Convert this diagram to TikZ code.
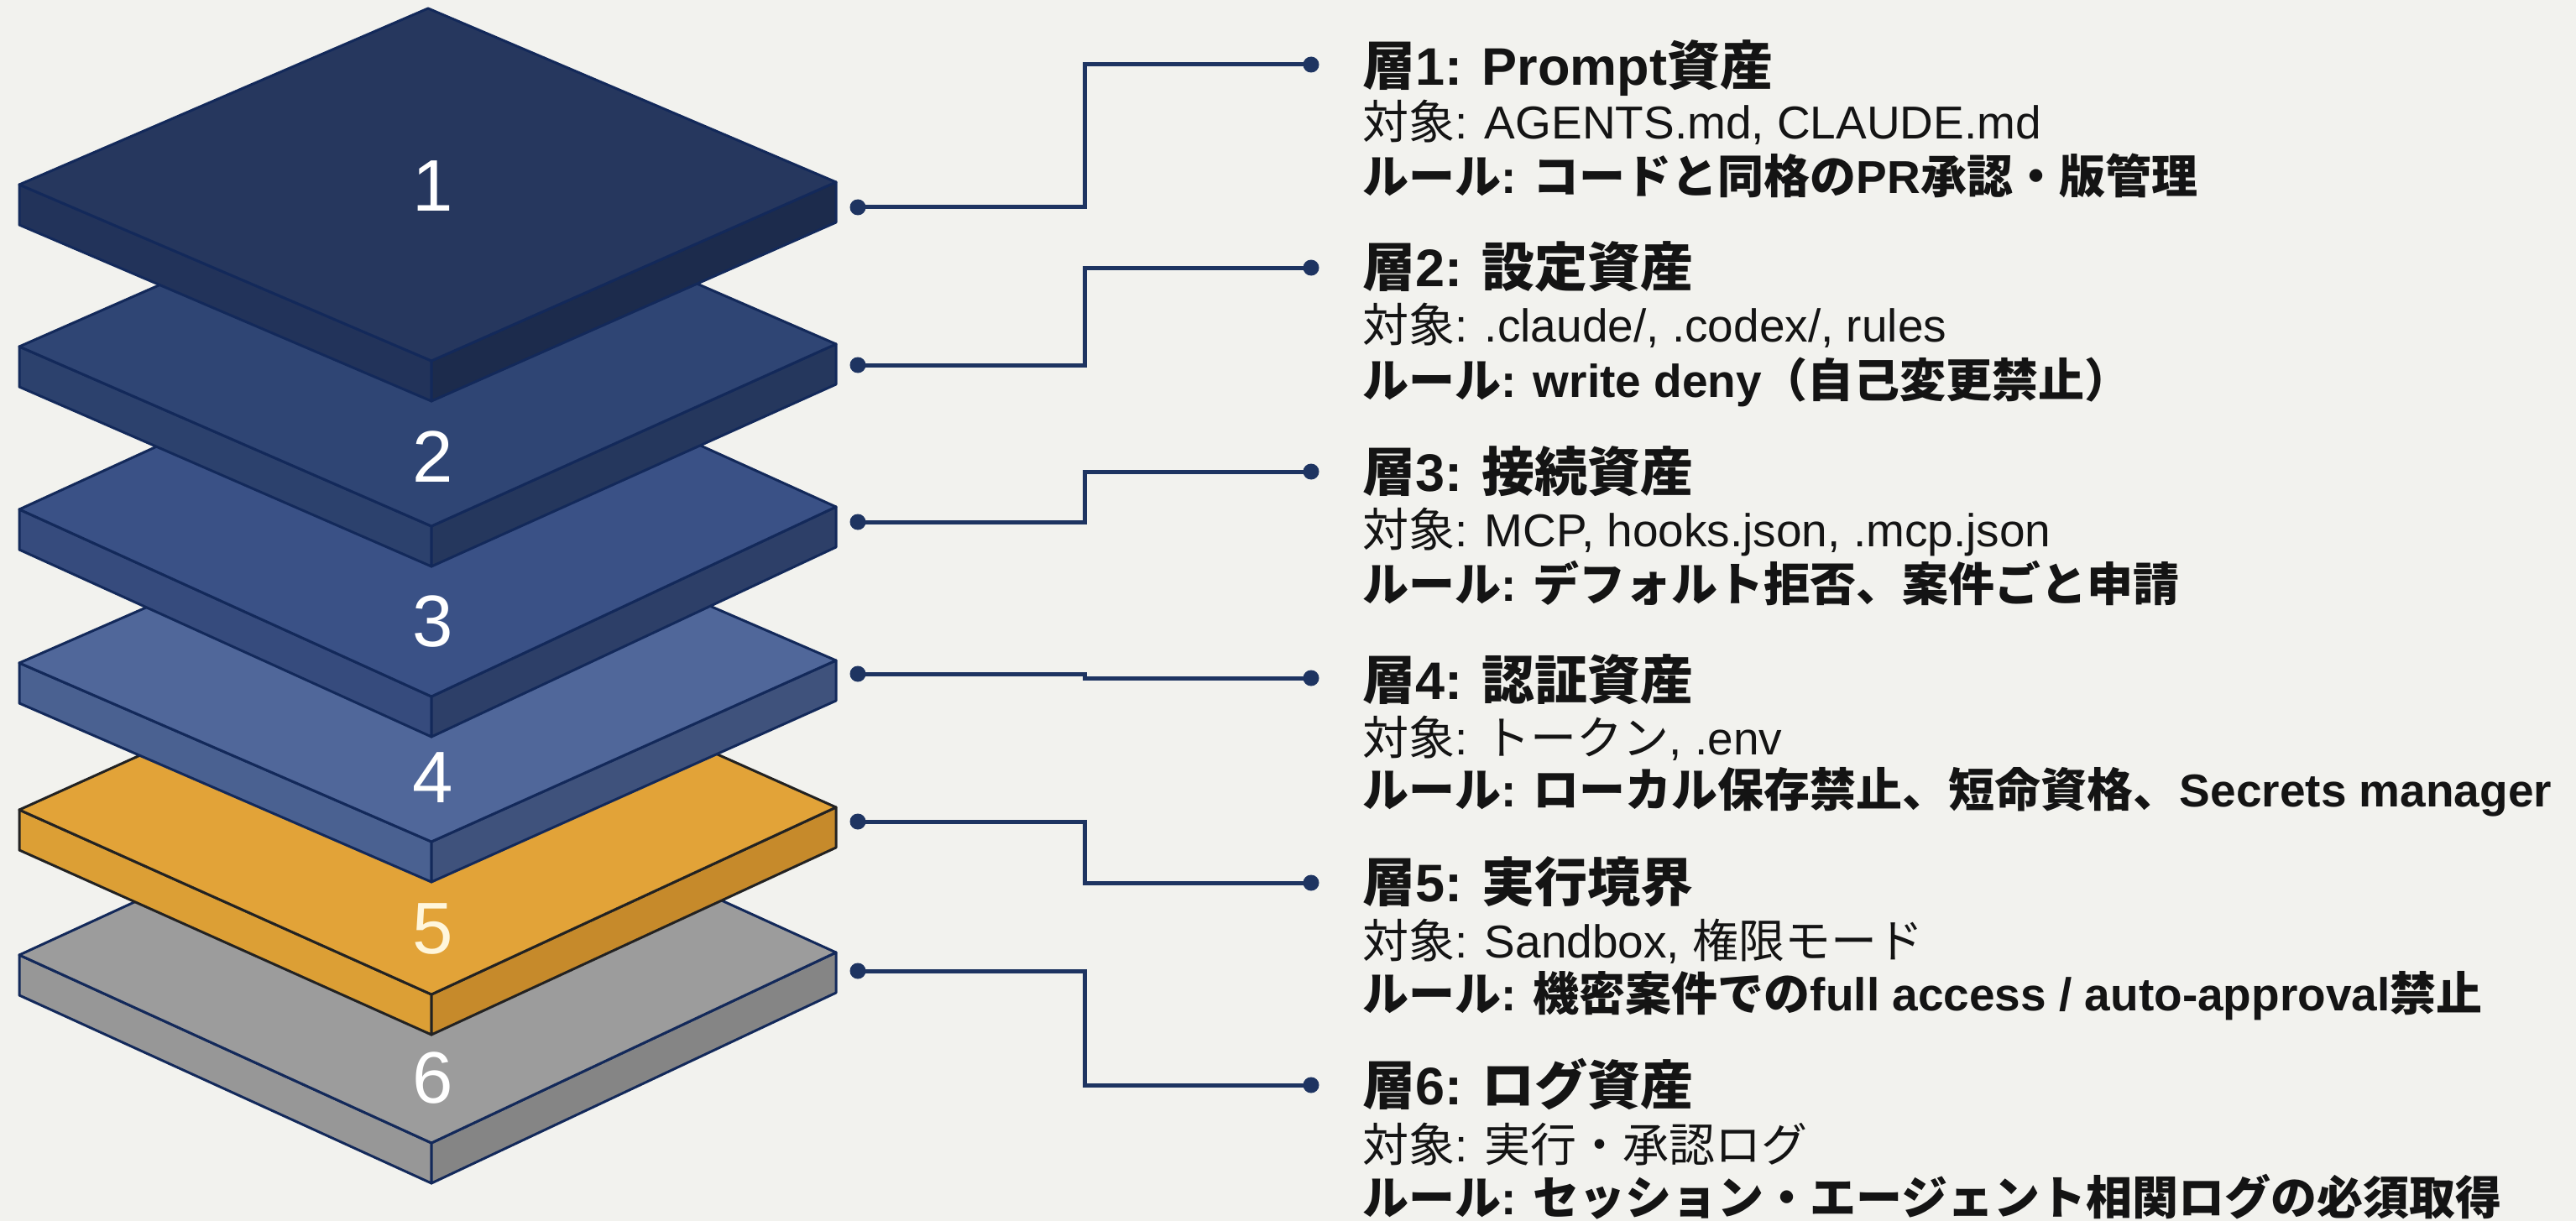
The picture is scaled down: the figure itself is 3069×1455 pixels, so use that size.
\documentclass[tikz,border=0pt]{standalone}
\usepackage{fontspec}
\setmainfont{Liberation Sans}
\newfontfamily\jp{Noto Sans CJK JP}
\usetikzlibrary{calc}
\newcommand\J[1]{{\jp #1}}
\definecolor{bg}{HTML}{F2F2EE}
\definecolor{ink}{HTML}{141414}
\definecolor{conn}{HTML}{1E3461}
\definecolor{navyline}{HTML}{13295A}
\definecolor{darkline}{HTML}{222222}
\definecolor{cream}{HTML}{FFF6DC}
\definecolor{aTop}{HTML}{26375E}\definecolor{aL}{HTML}{22335A}\definecolor{aR}{HTML}{1C2B4C}
\definecolor{bTop}{HTML}{2F4574}\definecolor{bL}{HTML}{2C416D}\definecolor{bR}{HTML}{25375D}
\definecolor{cTop}{HTML}{3A5186}\definecolor{cL}{HTML}{364B7D}\definecolor{cR}{HTML}{2D3F68}
\definecolor{dTop}{HTML}{50679A}\definecolor{dL}{HTML}{4A6191}\definecolor{dR}{HTML}{3F527C}
\definecolor{eTop}{HTML}{E2A338}\definecolor{eL}{HTML}{DC9F35}\definecolor{eR}{HTML}{C68A2B}
\definecolor{fTop}{HTML}{9C9C9C}\definecolor{fL}{HTML}{979797}\definecolor{fR}{HTML}{858585}
% #1 left-corner y, #2 front y, #3 top, #4 left side, #5 right side, #6 outline
\newcommand\slabdraw[6]{%
  \pgfmathsetmacro\sT{2*#1-#2}%
  \pgfmathsetmacro\sR{#1-3}%
  \filldraw[fill=#4,draw=#6,slabline] (23,#1) -- (514,#2) -- (514,#2+48) -- (23,#1+48) -- cycle;
  \filldraw[fill=#5,draw=#6,slabline] (514,#2) -- (996,\sR) -- (996,\sR+48) -- (514,#2+48) -- cycle;
  \filldraw[fill=#3,draw=#6,slabline] (23,#1) -- (510,\sT) -- (996,\sR) -- (514,#2) -- cycle;
}
\begin{document}
\begin{tikzpicture}[x=1pt,y=-1pt,
  slabline/.style={line width=3pt,line join=round},
  num/.style={text=white,inner sep=0pt,font=\fontsize{87}{87}\selectfont},
  dot/.style={circle,fill=conn,inner sep=0pt,minimum size=19pt},
  connline/.style={draw=conn,line width=5pt},
  ttl/.style={anchor=base west,inner sep=0pt,text=ink,font=\fontsize{63}{70}\selectfont\bfseries},
  txt/.style={anchor=base west,inner sep=0pt,text=ink,font=\fontsize{55}{60}\selectfont},
  rul/.style={anchor=base west,inner sep=0pt,text=ink,font=\fontsize{55}{60}\selectfont\bfseries}]
\useasboundingbox (0,0) rectangle (3069,1455);
\fill[bg] (0,0) rectangle (3069,1455);

% slabs, bottom first
\slabdraw{1138}{1362}{fTop}{fL}{fR}{navyline}
\slabdraw{965}{1185}{eTop}{eL}{eR}{darkline}
\slabdraw{790}{1003}{dTop}{dL}{dR}{navyline}
\slabdraw{607}{830}{cTop}{cL}{cR}{navyline}
\slabdraw{413}{627}{bTop}{bL}{bR}{navyline}
\slabdraw{220}{430}{aTop}{aL}{aR}{navyline}

\node[num] (n1) at (516,222) {1};
\node[num] (n2) at (516,544) {2};
\node[num] (n3) at (516,741) {3};
\node[num] (n4) at (516,927) {4};
\node[num,text=cream] (n5) at (516,1107) {5};
\node[num] (n6) at (516,1285) {6};

% connector dots
\node[dot] (a1) at (1022,247) {};  \node[dot] (b1) at (1562,77) {};
\node[dot] (a2) at (1022,435) {};  \node[dot] (b2) at (1562,319) {};
\node[dot] (a3) at (1022,622) {};  \node[dot] (b3) at (1562,562) {};
\node[dot] (a4) at (1022,803) {};  \node[dot] (b4) at (1562,808) {};
\node[dot] (a5) at (1022,979) {};  \node[dot] (b5) at (1562,1052) {};
\node[dot] (a6) at (1022,1157) {}; \node[dot] (b6) at (1562,1293) {};
\foreach \i in {1,...,6}{
  \draw[connline] (a\i.center) -| ($(a\i.center)!.5!(b\i.center)$) |- (b\i.center);
}

% texts
\node[ttl] (t1) at (1623,102) {\J{層}1: Prompt\J{資産}};
\node[txt] (o1) at (1623,166) {\J{対象}: AGENTS.md, CLAUDE.md};
\node[rul] (r1) at (1623,231) {\J{ルール}: \J{コードと同格の}PR\J{承認・版管理}};

\node[ttl] (t2) at (1623,341) {\J{層}2: \J{設定資産}};
\node[txt] (o2) at (1623,407) {\J{対象}: .claude/, .codex/, rules};
\node[rul] (r2) at (1623,473) {\J{ルール}: write deny\J{（自己変更禁止）}};

\node[ttl] (t3) at (1623,585) {\J{層}3: \J{接続資産}};
\node[txt] (o3) at (1623,651) {\J{対象}: MCP, hooks.json, .mcp.json};
\node[rul] (r3) at (1623,716) {\J{ルール}: \J{デフォルト拒否、案件ごと申請}};

\node[ttl] (t4) at (1623,833) {\J{層}4: \J{認証資産}};
\node[txt] (o4) at (1623,899) {\J{対象}: \J{トークン}, .env};
\node[rul] (r4) at (1623,961) {\J{ルール}: \J{ローカル保存禁止、短命資格、}Secrets manager};

\node[ttl] (t5) at (1623,1074) {\J{層}5: \J{実行境界}};
\node[txt] (o5) at (1623,1141) {\J{対象}: Sandbox, \J{権限モード}};
\node[rul] (r5) at (1623,1204) {\J{ルール}: \J{機密案件での}full access / auto-approval\J{禁止}};

\node[ttl] (t6) at (1623,1316) {\J{層}6: \J{ログ資産}};
\node[txt] (o6) at (1623,1384) {\J{対象}: \J{実行・承認ログ}};
\node[rul] (r6) at (1623,1447) {\J{ルール}: \J{セッション・エージェント相関ログの必須取得}};
\end{tikzpicture}
\end{document}
